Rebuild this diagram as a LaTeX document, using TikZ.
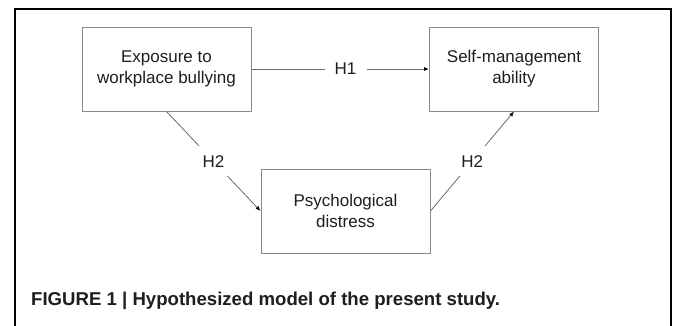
\documentclass[tikz,border=0pt]{standalone}
\usepackage{fontspec}
\setmainfont{Liberation Sans}
\usetikzlibrary{arrows.meta}
\definecolor{boxline}{HTML}{8A8A8A}
\definecolor{connline}{HTML}{6A6A6A}
\definecolor{txt}{HTML}{1E1E1E}
\tikzset{
  varbox/.style={draw=boxline, line width=1pt, fill=white, minimum width=169pt, minimum height=84pt, inner sep=0pt, align=center, text=txt, font=\fontsize{17}{21}\selectfont},
  conn/.style={draw=connline, line width=0.8pt, -{Latex[length=5pt,width=4pt,color=black]}},
  hyplab/.style={fill=white, minimum width=42pt, minimum height=30pt, inner sep=0pt, text=txt, font=\fontsize{17}{21}\selectfont},
  frameline/.style={line width=2pt, draw=black}
}
\begin{document}
\begin{tikzpicture}[x=1pt,y=-1pt]
\useasboundingbox (0,0) rectangle (673,325);
\draw[frameline] (15,326) -- (15,9) -- (671,9) -- (671,326);
\node[varbox] (expo) at (166.5,69) {Exposure to\\workplace bullying};
\node[varbox] (self) at (514,69) {Self-management\\ability};
\node[varbox] (psych) at (345.5,211) {Psychological\\distress};
\draw[conn] (expo.east) -- node[hyplab, pos=0.53] (h1) {H1} (self.west);
\draw[conn] (expo.south) -- node[hyplab] (h2a) {H2} (psych.west);
\draw[conn] (psych.east) -- node[hyplab] (h2b) {H2} (self.south);
\node[anchor=base west, inner sep=0pt, text=txt, font=\bfseries\fontsize{18.6}{22}\selectfont] (cap) at (31,305) {FIGURE 1 | Hypothesized model of the present study.};
\end{tikzpicture}
\end{document}
